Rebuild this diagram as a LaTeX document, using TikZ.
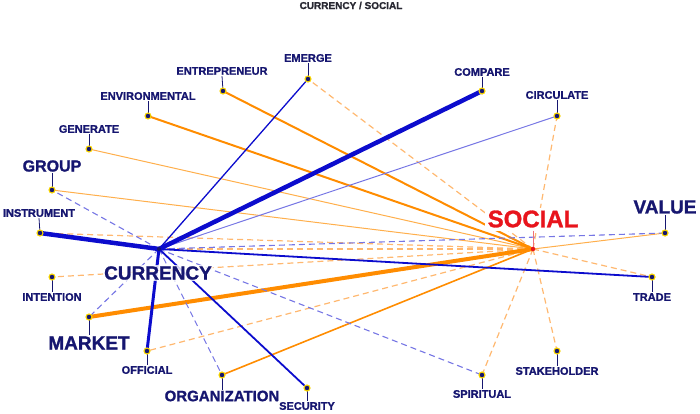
\documentclass[tikz,border=0pt]{standalone}
\usepackage{fontspec}
\setmainfont{Liberation Sans}[BoldFeatures={FakeBold=1.2}]
\definecolor{navy}{RGB}{22,22,112}
\definecolor{bl}{RGB}{12,12,205}
\definecolor{lbl}{RGB}{118,118,228}
\definecolor{orn}{RGB}{255,140,0}
\definecolor{lorn}{RGB}{255,184,112}
\definecolor{ylw}{RGB}{250,215,0}
\definecolor{rd}{RGB}{232,20,28}
\definecolor{ttl}{RGB}{40,40,50}
\tikzset{
  conn/.style={line cap=round},
  bvthick/.style={conn,draw=bl,line width=4.5pt},
  bthick/.style={conn,draw=bl,line width=3pt},
  bmed/.style={conn,draw=bl,line width=1.8pt},
  bmedthin/.style={conn,draw=bl,line width=1.3pt},
  bthin/.style={conn,draw=lbl,line width=1pt},
  bdash/.style={draw=lbl,line width=1.1pt,dash pattern=on 6pt off 4pt},
  othick/.style={conn,draw=orn,line width=4pt},
  omed/.style={conn,draw=orn,line width=2pt},
  othin/.style={conn,draw=orn!70!white,line width=1pt},
  odash/.style={draw=lorn,line width=1.2pt,dash pattern=on 6pt off 4pt},
  lbase/.style={font=\bfseries, text=navy, fill=white, inner sep=1pt},
  sm/.style={lbase,font=\bfseries\fontsize{11}{13}\selectfont},
  lg/.style={lbase,font=\bfseries\fontsize{#1}{#1}\selectfont},
  lead/.style={draw=navy,line width=0.8pt},
  ptdot/.style={circle,fill=navy,draw=ylw,line width=1.1pt,minimum size=6pt,inner sep=0pt},
}
\begin{document}
\begin{tikzpicture}[x=1pt,y=-1pt]
\useasboundingbox (0,0) rectangle (700,413);
% hubs
\coordinate (cur) at (159,249);
\coordinate (soc) at (533,249);
% term positions
\coordinate (pEMERGE) at (308,79);
\coordinate (pENTRE) at (223,91);
\coordinate (pENVIR) at (148,116);
\coordinate (pGENER) at (89,149);
\coordinate (pGROUP) at (52,190);
\coordinate (pCOMP) at (482,91);
\coordinate (pCIRC) at (557,116);
\coordinate (pINSTR) at (40,233);
\coordinate (pINTEN) at (52,277);
\coordinate (pMARK) at (89,317);
\coordinate (pOFFIC) at (147,351);
\coordinate (pORGAN) at (222,375);
\coordinate (pSECUR) at (307,388);
\coordinate (pVALUE) at (665,233);
\coordinate (pTRADE) at (652,277);
\coordinate (pSTAKE) at (557,351);
\coordinate (pSPIRIT) at (482,375);

% social connectors (orange)
\draw[odash] (soc) -- (pEMERGE);
\draw[odash] (soc) -- (pCIRC);
\draw[odash] (soc) -- (pINSTR);
\draw[odash] (soc) -- (pINTEN);
\draw[odash] (soc) -- (pOFFIC);
\draw[odash] (soc) -- (pTRADE);
\draw[odash] (soc) -- (pSTAKE);
\draw[odash] (soc) -- (pSPIRIT);
\draw[odash] (soc) -- (cur);
\draw[othin] (soc) -- (pGENER);
\draw[othin] (soc) -- (pGROUP);
\draw[othin] (soc) -- (pVALUE);
\draw[omed] (soc) -- (pENTRE);
\draw[omed] (soc) -- (pENVIR);
\draw[omed,line width=1.6pt] (soc) -- (pORGAN);
\draw[othick] (soc) -- (pMARK);

% currency connectors (blue)
\draw[bdash] (cur) -- (pGROUP);
\draw[bdash] (cur) -- (pMARK);
\draw[bdash] (cur) -- (pORGAN);
\draw[bdash] (cur) -- (pVALUE);
\draw[bdash] (cur) -- (pSPIRIT);
\draw[bthin] (cur) -- (pCIRC);
\draw[bmedthin] (cur) -- (pEMERGE);
\draw[bmed] (cur) -- (pSECUR);
\draw[bmed] (cur) -- (pTRADE);
\draw[bthick] (cur) -- (pOFFIC);
\draw[bvthick] (cur) -- (pCOMP);
\draw[bvthick] (cur) -- (pINSTR);

% title
\node[font=\bfseries\fontsize{10}{12}\selectfont, text=ttl, inner sep=0pt] (title) at (351,5.5) {CURRENCY / SOCIAL};

% labels
\node[sm] (lEMERGE) at (308,58) {EMERGE};
\node[sm] (lENTRE) at (222,71) {ENTREPRENEUR};
\node[sm] (lENVIR) at (148,96) {ENVIRONMENTAL};
\node[sm] (lGENER) at (89,129) {GENERATE};
\node[lg=16] (lGROUP) at (52,166) {GROUP};
\node[sm] (lCOMP) at (482,72) {COMPARE};
\node[sm] (lCIRC) at (557,95) {CIRCULATE};
\node[sm] (lINSTR) at (39,213) {INSTRUMENT};
\node[sm] (lINTEN) at (52,297) {INTENTION};
\node[lg=19] (lMARK) at (89,343) {MARKET};
\node[sm] (lOFFIC) at (147,370) {OFFICIAL};
\node[lg=15] (lORGAN) at (222,396) {ORGANIZATION};
\node[sm] (lSECUR) at (307,406) {SECURITY};
\node[lg=19,fill opacity=0.8,text opacity=1] (lCUR) at (158,273) {CURRENCY};
\node[lg=19] (lVALUE) at (665,207) {VALUE};
\node[sm] (lTRADE) at (652,297) {TRADE};
\node[sm] (lSTAKE) at (557,371) {STAKEHOLDER};
\node[sm] (lSPIRIT) at (482,394) {SPIRITUAL};
\node[lg=24,text=rd,inner sep=3pt] (lSOC) at (533,219) {SOCIAL};

% leaders
\draw[lead] (lEMERGE.south) -- (pEMERGE);
\draw[lead] (lENTRE.south) -- (pENTRE);
\draw[lead] (lENVIR.south) -- (pENVIR);
\draw[lead] (lGENER.south) -- (pGENER);
\draw[lead] (lGROUP.south) -- (pGROUP);
\draw[lead] (lCOMP.south) -- (pCOMP);
\draw[lead] (lCIRC.south) -- (pCIRC);
\draw[lead] (lINSTR.south) -- (pINSTR);
\draw[lead] (lVALUE.south) -- (pVALUE);
\draw[lead] (pINTEN) -- (lINTEN.north);
\draw[lead] (pMARK) -- (lMARK.north);
\draw[lead] (pOFFIC) -- (lOFFIC.north);
\draw[lead] (pORGAN) -- (lORGAN.north);
\draw[lead] (pSECUR) -- (lSECUR.north);
\draw[lead] (pTRADE) -- (lTRADE.north);
\draw[lead] (pSTAKE) -- (lSTAKE.north);
\draw[lead] (pSPIRIT) -- (lSPIRIT.north);
\draw[draw=rd!60!white,line width=0.9pt] (lSOC.south) -- (soc);

% dots
\foreach \p in {EMERGE,ENTRE,ENVIR,GENER,GROUP,COMP,CIRC,INSTR,INTEN,MARK,OFFIC,ORGAN,SECUR,VALUE,TRADE,STAKE,SPIRIT}{
  \node[ptdot] (d\p) at (p\p) {};
}
\node[circle,fill=navy,inner sep=0pt,minimum size=4pt] (dcur) at (cur) {};
\node[circle,fill=rd,inner sep=0pt,minimum size=4.5pt] (dsoc) at (soc) {};
\end{tikzpicture}
\end{document}
